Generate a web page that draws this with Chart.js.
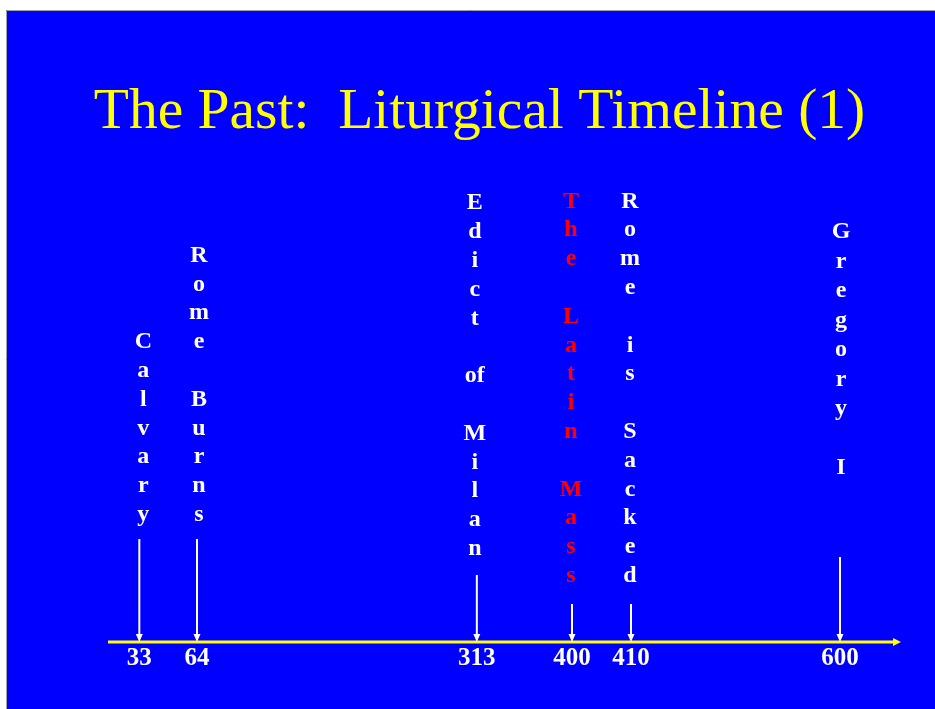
<!DOCTYPE html>
<html>
<head>
<meta charset="utf-8">
<script src="https://cdn.jsdelivr.net/npm/chart.js@4/dist/chart.umd.min.js"></script>
<style>
  html, body { margin: 0; padding: 0; background: #fff; }
  #chart { display: block; }
</style>
</head>
<body>
<canvas id="chart" width="935" height="709"></canvas>
<script>
// Data
const years = [33, 64, 313, 400, 410, 600];
const events = ['Calvary', 'Rome Burns', 'Edict of Milan', 'The Latin Mass', 'Rome is Sacked', 'Gregory I'];
const titleText = 'The Past:  Liturgical Timeline (1)';

// The slide spaces the years by hand, so the axis is piecewise (year -> share of axis width)
const axisStops = [[0, 0], [33, 0.0395], [64, 0.1122], [313, 0.4651], [400, 0.5851], [410, 0.6595], [600, 0.9231], [700, 1]];

const serif = '"Liberation Serif", "Times New Roman", serif';

class TimelineScale extends Chart.LinearScale {
    getPixelForValue(value) {
        let frac = 0;
        for (let i = 1; i < axisStops.length; i++) {
            const [v0, f0] = axisStops[i - 1];
            const [v1, f1] = axisStops[i];
            if (value <= v1 || i === axisStops.length - 1) {
                frac = f0 + (value - v0) / (v1 - v0) * (f1 - f0);
                break;
            }
        }
        return this.getPixelForDecimal(frac);
    }
    getValueForPixel(pixel) {
        const frac = this.getDecimalForPixel(pixel);
        for (let i = 1; i < axisStops.length; i++) {
            const [v0, f0] = axisStops[i - 1];
            const [v1, f1] = axisStops[i];
            if (frac <= f1 || i === axisStops.length - 1) {
                return v0 + (frac - f0) / (f1 - f0) * (v1 - v0);
            }
        }
    }
}
TimelineScale.id = 'timeline';
TimelineScale.defaults = Chart.LinearScale.defaults;
Chart.register(TimelineScale);

// stacked letters: each word letter by letter, short word "of" kept whole, blank row between words
function stackRows(label) {
    const rows = [];
    label.split(' ').forEach((word, i) => {
        if (i > 0) rows.push('');
        if (word === 'of') rows.push(word);
        else word.split('').forEach(ch => rows.push(ch));
    });
    return rows;
}

const slidePlugin = {
    id: 'slide',
    beforeDraw(chart) {
        const ctx = chart.ctx;
        ctx.save();
        ctx.fillStyle = '#ffffff';
        ctx.fillRect(0, 0, chart.width, chart.height);
        ctx.fillStyle = '#0000ff';
        ctx.fillRect(6, 10, chart.width - 6, chart.height - 10);
        ctx.strokeStyle = '#a0a0a0';
        ctx.lineWidth = 1;
        ctx.beginPath();
        ctx.moveTo(6.5, chart.height);
        ctx.lineTo(6.5, 10.5);
        ctx.lineTo(chart.width, 10.5);
        ctx.stroke();
        ctx.restore();
    },
    afterDatasetsDraw(chart, args, opts) {
        const ctx = chart.ctx;
        const area = chart.chartArea;
        const axisY = chart.scales.y.getPixelForValue(0);
        ctx.save();

        // yellow time arrow
        ctx.strokeStyle = '#ffff00';
        ctx.fillStyle = '#ffff00';
        ctx.lineWidth = 3;
        ctx.beginPath();
        ctx.moveTo(area.left, axisY);
        ctx.lineTo(area.right - 6, axisY);
        ctx.stroke();
        ctx.beginPath();
        ctx.moveTo(area.right, axisY);
        ctx.lineTo(area.right - 8, axisY - 4);
        ctx.lineTo(area.right - 8, axisY + 4);
        ctx.closePath();
        ctx.fill();

        const meta = chart.getDatasetMeta(0);
        meta.data.forEach((pt, i) => {
            const x = pt.x;
            // white pointer arrow
            const top = axisY - opts.arrowLen[i];
            ctx.strokeStyle = '#ffffff';
            ctx.fillStyle = '#ffffff';
            ctx.lineWidth = 2;
            ctx.beginPath();
            ctx.moveTo(x, top);
            ctx.lineTo(x, axisY - 6);
            ctx.stroke();
            ctx.beginPath();
            ctx.moveTo(x, axisY);
            ctx.lineTo(x - 3.5, axisY - 8);
            ctx.lineTo(x + 3.5, axisY - 8);
            ctx.closePath();
            ctx.fill();

            // stacked label
            const rows = stackRows(events[i]);
            ctx.fillStyle = opts.colors[i];
            ctx.font = 'bold 24px ' + serif;
            ctx.textAlign = 'center';
            ctx.textBaseline = 'alphabetic';
            const lastBase = axisY - opts.textLift[i];
            const rh = opts.rowHeight[i];
            const tx = x + opts.textShift[i];
            rows.forEach((r, k) => {
                if (r) ctx.fillText(r, tx, lastBase - (rows.length - 1 - k) * rh);
            });
        });
        ctx.restore();
    }
};

new Chart(document.getElementById('chart'), {
    type: 'scatter',
    data: {
        datasets: [{
            data: years.map(y => ({ x: y, y: 0 })),
            pointRadius: 0,
            showLine: false
        }]
    },
    plugins: [slidePlugin],
    options: {
        responsive: false,
        animation: false,
        layout: { padding: { left: 58, right: 34, top: 0, bottom: 33 } },
        plugins: {
            legend: { display: false },
            tooltip: { enabled: false },
            title: {
                display: true,
                text: titleText,
                color: '#ffff00',
                font: { family: serif, size: 57.5, weight: 'normal', lineHeight: 1.2 },
                padding: { top: 78, bottom: 4 }
            },
            slide: {
                arrowLen: [103, 103, 67, 38, 38, 85],
                textLift: [121, 121, 87, 60, 60, 168],
                rowHeight: [28.8, 28.8, 28.8, 28.8, 28.8, 29.5],
                textShift: [4, 2, -2, -1, -1, 1],
                colors: ['#ffffff', '#ffffff', '#ffffff', '#ff0000', '#ffffff', '#ffffff']
            }
        },
        scales: {
            x: {
                type: 'timeline',
                min: 0,
                max: 700,
                afterBuildTicks: s => { s.ticks = years.map(v => ({ value: v })); },
                grid: { display: false, drawTicks: false },
                border: { display: false },
                ticks: {
                    color: '#ffffff',
                    font: { family: serif, size: 25, weight: 'bold', lineHeight: 1.2 },
                    padding: 2,
                    maxRotation: 0,
                    autoSkip: false,
                    callback: v => String(v)
                }
            },
            y: {
                min: 0,
                max: 1,
                afterFit: s => { s.width = 50; },
                grid: { display: false, drawTicks: false },
                border: { display: false },
                ticks: { display: false }
            }
        }
    }
});
</script>
</body>
</html>
